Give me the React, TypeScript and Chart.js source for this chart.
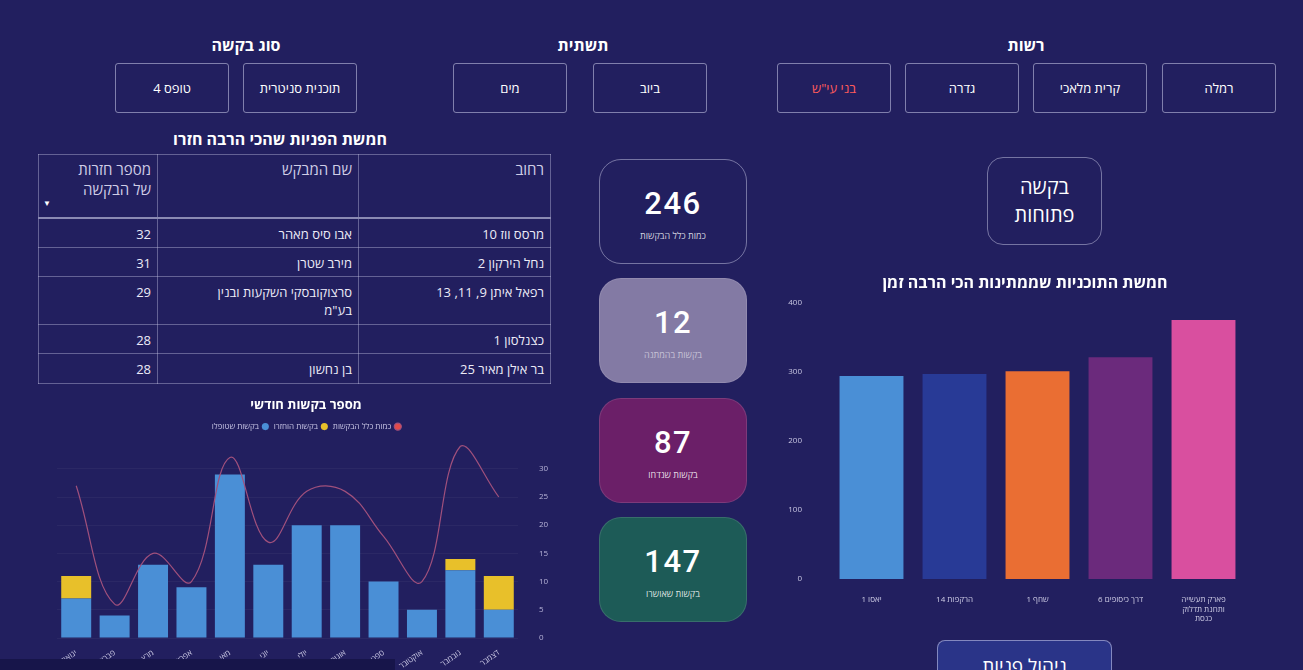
import React, { useEffect, useRef } from "react";
import { Chart, registerables } from "chart.js";
Chart.register(...registerables);

// ---------- data ----------
const authorityFilters = ["רמלה", "קרית מלאכי", "גדרה", "בני עי\"ש"];
const infraFilters = ["ביוב", "מים"];
const requestTypeFilters = ["תוכנית סניטרית", "טופס 4"];

const tableStreets = ["מרסס ווז 10", "נחל הירקון 2", "רפאל איתן 9, 11, 13", "כצנלסון 1", "בר אילן מאיר 25"];
const tableApplicants = ["אבו סיס מאהר", "מירב שטרן", "סרצוקובסקי השקעות ובנין בע\"מ", "", "בן נחשון"];
const tableReturns = [32, 31, 29, 28, 28];

const kpiValues = [246, 12, 87, 147];
const kpiLabels = ["כמות כלל הבקשות", "בקשות בהמתנה", "בקשות שנדחו", "בקשות שאושרו"];

const months = ["ינואר", "פברואר", "מרץ", "אפריל", "מאי", "יוני", "יולי", "אוגוסט", "ספטמבר", "אוקטובר", "נובמבר", "דצמבר"];
const monthlyTotal = [27, 6, 15, 10, 32, 17, 26, 26, 18, 10, 34, 25];
const monthlyHandled = [7, 4, 13, 9, 29, 13, 20, 20, 10, 5, 12, 5];
const monthlyReturned = [4, 0, 0, 0, 0, 0, 0, 0, 0, 0, 2, 6];
const monthlySeriesNames = ["כמות כלל הבקשות", "בקשות שטופלו", "בקשות הוחזרו"];
const monthlyTicks = [0, 5, 10, 15, 20, 25, 30];

const plans = ["יאסו 1", "הרקפות 14", "שחף 1", "דרך כיסופים 6", ["פארק תעשייה", "ותחנת תדלוק", "כנסת"]];
const planWaitDays = [294, 297, 301, 321, 375];
const planTicks = [0, 100, 200, 300, 400];

// ---------- styles ----------
const BG = "#221f5f";
const FONT = "'Open Sans', 'Liberation Sans', 'DejaVu Sans', sans-serif";
const planColors = ["#4a8fd6", "#283a96", "#ea6e33", "#6b2a7c", "#d94f9f"];
const kpiBgs = ["transparent", "#837aa4", "#6b1f68", "#1d5b57"];
const kpiLabelColors = ["rgba(255,255,255,0.8)", "rgba(255,255,255,0.55)", "rgba(255,255,255,0.85)", "rgba(255,255,255,0.85)"];

const abs = (l: number, t: number, w: number, h: number): React.CSSProperties => ({
  position: "absolute", left: l, top: t, width: w, height: h, boxSizing: "border-box",
});

function FilterButton({ x, label, red }: { x: number; label: string; red?: boolean }) {
  return (
    <div style={{
      ...abs(x, 63, 114, 50), border: "1px solid rgba(205,205,235,0.55)", borderRadius: 3,
      display: "flex", alignItems: "center", justifyContent: "center",
      color: red ? "#ff5b5b" : "#ffffff", fontSize: 13, direction: "rtl",
    }}>{label}</div>
  );
}

function MonthlyChart() {
  const ref = useRef<HTMLCanvasElement>(null);
  useEffect(() => {
    const order: Record<number, number> = { 0: 0, 2: 1, 1: 2 };
    const chart = new Chart(ref.current!, {
      type: "bar",
      data: {
        labels: months,
        datasets: [
          {
            type: "line", label: monthlySeriesNames[0], data: monthlyTotal, stack: "line",
            borderColor: "#a0507c", backgroundColor: "#e24a4a", borderWidth: 1.2,
            tension: 0.4, pointRadius: 0, fill: false,
          } as any,
          { type: "bar", label: monthlySeriesNames[1], data: monthlyHandled, backgroundColor: "#4a8fd6", stack: "s", barPercentage: 0.78, categoryPercentage: 1 },
          { type: "bar", label: monthlySeriesNames[2], data: monthlyReturned, backgroundColor: "#e8c02a", stack: "s", barPercentage: 0.78, categoryPercentage: 1 },
        ],
      },
      options: {
        animation: false, responsive: false, maintainAspectRatio: false,
        layout: { padding: { left: 19, right: 0, top: 0, bottom: 0 } },
        plugins: {
          title: {
            display: true, text: "מספר בקשות חודשי", color: "#ffffff",
            font: { family: FONT, size: 13, weight: "bold" }, padding: { top: 2, bottom: 4 },
          },
          legend: {
            display: true, rtl: true, textDirection: "rtl",
            labels: {
              usePointStyle: true, pointStyle: "circle", boxWidth: 5, boxHeight: 5,
              color: "#c9c6e6", font: { family: FONT, size: 8 }, padding: 6,
              sort: (a: any, b: any) => order[a.datasetIndex] - order[b.datasetIndex],
            },
          },
          tooltip: { enabled: false },
        },
        scales: {
          x: {
            stacked: true,
            grid: { display: false }, border: { display: false },
            ticks: { color: "#c8c6e2", font: { family: FONT, size: 8 }, minRotation: 35, maxRotation: 35, padding: 2 },
            afterFit: (s: any) => { s.height = 32; },
          },
          y: {
            stacked: true, position: "right", min: 0, max: 35,
            afterBuildTicks: (s: any) => { s.ticks = monthlyTicks.map((v) => ({ value: v })); },
            grid: { color: "rgba(255,255,255,0.045)", drawTicks: false }, border: { display: false },
            ticks: { color: "#b8b4d8", font: { family: FONT, size: 8 }, padding: 21 },
            afterFit: (s: any) => { s.width = 37; },
          },
        },
      } as any,
    });
    return () => chart.destroy();
  }, []);
  return <canvas ref={ref} width={517} height={275} style={{ ...abs(38, 395, 517, 275) }} />;
}

function PlansChart() {
  const ref = useRef<HTMLCanvasElement>(null);
  useEffect(() => {
    const chart = new Chart(ref.current!, {
      type: "bar",
      data: {
        labels: plans as any,
        datasets: [{ label: "ימי המתנה", data: planWaitDays, backgroundColor: planColors, barPercentage: 0.77, categoryPercentage: 1 }],
      },
      options: {
        animation: false, responsive: false, maintainAspectRatio: false,
        layout: { padding: { left: 0, right: 5, top: 0, bottom: 0 } },
        plugins: { legend: { display: false }, title: { display: false }, tooltip: { enabled: false } },
        scales: {
          x: {
            grid: { display: false }, border: { display: false },
            ticks: { color: "#cfcde6", font: { family: FONT, size: 8 }, maxRotation: 0, minRotation: 0, padding: 8 },
            afterFit: (s: any) => { s.height = 56; },
          },
          y: {
            min: 0, max: 400,
            afterBuildTicks: (s: any) => { s.ticks = planTicks.map((v) => ({ value: v })); },
            grid: { display: false }, border: { display: false },
            ticks: { color: "#c8c6e2", font: { family: FONT, size: 8 }, padding: 20 },
            afterFit: (s: any) => { s.width = 60; },
          },
        },
      } as any,
    });
    return () => chart.destroy();
  }, []);
  return <canvas ref={ref} width={480} height={357} style={{ ...abs(770, 278, 480, 357) }} />;
}

const cellBorder = "1px solid rgba(200,200,230,0.4)";

function TopTable() {
  const rowH = [30, 29, 48, 28, 30];
  const colW = [192, 201, 119];
  const td = (w: number, extra?: React.CSSProperties): React.CSSProperties => ({
    width: w, border: cellBorder, padding: "4px 6px", textAlign: "right", verticalAlign: "top",
    boxSizing: "border-box", ...extra,
  });
  const head: React.CSSProperties = { fontWeight: "normal", color: "#cfcde6", fontSize: 15, borderBottom: "2px solid rgba(210,210,235,0.6)" };
  return (
    <table style={{
      position: "absolute", left: 38, top: 154, width: 512, borderCollapse: "collapse", direction: "rtl",
      fontFamily: FONT, color: "#ecebf7", fontSize: 13, tableLayout: "fixed",
    }}>
      <thead>
        <tr style={{ height: 63 }}>
          <th style={td(colW[0], head)}>רחוב</th>
          <th style={td(colW[1], head)}>שם המבקש</th>
          <th style={td(colW[2], { ...head, lineHeight: "20px", position: "relative" })}>
            מספר חזרות<br />של הבקשה
            <span style={{ position: "absolute", left: 4, bottom: 4, fontSize: 8, color: "#ffffff" }}>▼</span>
          </th>
        </tr>
      </thead>
      <tbody>
        {tableStreets.map((s, i) => (
          <tr key={i} style={{ height: rowH[i] }}>
            <td style={td(colW[0], { paddingTop: 6 })}>{s}</td>
            <td style={td(colW[1], { paddingTop: 6, paddingLeft: 30, lineHeight: "18px" })}>{tableApplicants[i]}</td>
            <td style={td(colW[2], { paddingTop: 6 })}>{tableReturns[i]}</td>
          </tr>
        ))}
      </tbody>
    </table>
  );
}

export default function App() {
  const kpiTops = [159, 278, 398, 517];
  return (
    <div style={{
      position: "fixed", left: 0, top: 0, width: 1303, height: 670, overflow: "hidden",
      background: BG, fontFamily: FONT, color: "#fff",
    }}>
      {/* filter group titles */}
      <div style={{ ...abs(966, 34, 120, 24), textAlign: "center", fontSize: 16, fontWeight: 700 }}>רשות</div>
      <div style={{ ...abs(523, 34, 120, 24), textAlign: "center", fontSize: 16, fontWeight: 700 }}>תשתית</div>
      <div style={{ ...abs(186, 34, 120, 24), textAlign: "center", fontSize: 16, fontWeight: 700, direction: "rtl" }}>סוג בקשה</div>

      {authorityFilters.map((f, i) => (
        <FilterButton key={f} x={[1162, 1033, 905, 777][i]} label={f} red={i === 3} />
      ))}
      {infraFilters.map((f, i) => (
        <FilterButton key={f} x={[593, 453][i]} label={f} />
      ))}
      {requestTypeFilters.map((f, i) => (
        <FilterButton key={f} x={[243, 115][i]} label={f} />
      ))}

      {/* table */}
      <div style={{ ...abs(30, 128, 500, 24), textAlign: "center", fontSize: 16, fontWeight: 700, direction: "rtl" }}>
        חמשת הפניות שהכי הרבה חזרו
      </div>
      <TopTable />

      {/* monthly chart */}
      <MonthlyChart />

      {/* KPI cards */}
      {kpiValues.map((v, i) => (
        <div key={i} style={{
          ...abs(599, kpiTops[i], 148, 105), borderRadius: 22, background: kpiBgs[i],
          border: i === 0 ? "1px solid rgba(220,220,245,0.45)" : "1px solid rgba(255,255,255,0.12)",
        }}>
          <div style={{ position: "absolute", left: 0, right: 0, top: 25, textAlign: "center", fontSize: 31, fontWeight: 500, fontFamily: "Roboto, 'DejaVu Sans', sans-serif", letterSpacing: 1.5 }}>{v}</div>
          <div style={{ position: "absolute", left: 0, right: 0, top: 69, textAlign: "center", fontSize: 9, color: kpiLabelColors[i], direction: "rtl" }}>{kpiLabels[i]}</div>
        </div>
      ))}

      {/* open requests box */}
      <div style={{
        ...abs(987, 157, 115, 88), border: "1px solid rgba(220,220,245,0.45)", borderRadius: 16,
        display: "flex", alignItems: "center", justifyContent: "center", textAlign: "center",
        fontSize: 20, lineHeight: "28px", direction: "rtl",
      }}>בקשה<br />פתוחות</div>

      {/* plans chart */}
      <PlansChart />
      <div style={{ ...abs(780, 271, 490, 24), textAlign: "center", fontSize: 16, fontWeight: 700, direction: "rtl" }}>
        חמשת התוכניות שממתינות הכי הרבה זמן
      </div>

      {/* bottom button */}
      <div style={{
        ...abs(937, 640, 175, 50), border: "1px solid rgba(220,220,245,0.5)", borderRadius: 8,
        background: "#2a3488", textAlign: "center", fontSize: 19, paddingTop: 12, direction: "rtl",
      }}>ניהול פניות</div>

      {/* dark strip */}
      <div style={{ ...abs(0, 659, 395, 11), background: "#17154a" }} />
    </div>
  );
}
